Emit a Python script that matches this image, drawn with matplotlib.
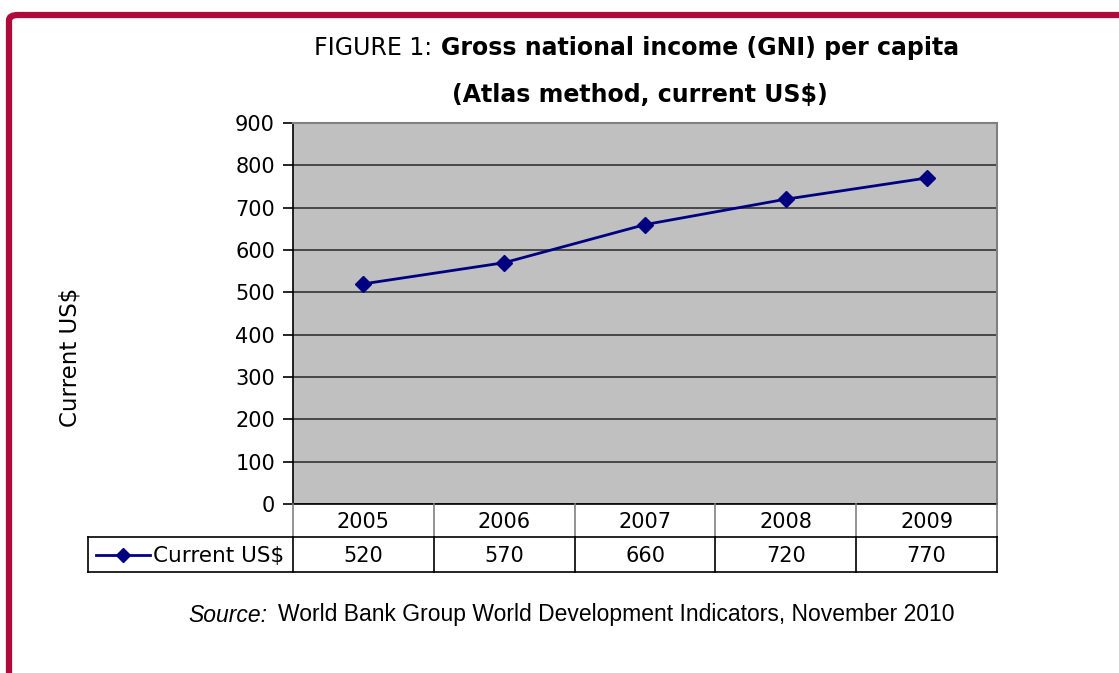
import matplotlib
matplotlib.use("Agg")
import matplotlib.pyplot as plt
import matplotlib.transforms as mtransforms
from matplotlib.patches import FancyBboxPatch
from matplotlib.lines import Line2D

years = ["2005", "2006", "2007", "2008", "2009"]
values = [520, 570, 660, 720, 770]
series_name = "Current US$"
yticks = [0, 100, 200, 300, 400, 500, 600, 700, 800, 900]

W, H = 1119, 673
fig = plt.figure(figsize=(W / 100, H / 100), dpi=100)
plt.rcParams['font.family'] = ['DejaVu Sans']

def fx(px):
    return px / W

def fy(py):
    return 1 - py / H

# red frame
frame = FancyBboxPatch((fx(9), fy(900)), fx(1300), fy(15) - fy(900),
                       boxstyle="round,pad=0,rounding_size=0.008",
                       transform=fig.transFigure, fill=False,
                       edgecolor="#AE0A3A", linewidth=4.5, clip_on=False)
fig.patches.append(frame)

L, R, T, B = 293, 997, 123, 504
ax = fig.add_axes([fx(L), fy(B), fx(R) - fx(L), fy(T) - fy(B)])
ax.set_facecolor("#C0C0C0")
x = list(range(len(years)))
ax.plot(x, values, color="#000080", linewidth=2, marker="D", markersize=8,
        markerfacecolor="#000080", markeredgecolor="#000080", zorder=3)
ax.set_xlim(-0.5, len(years) - 0.5)
ax.set_ylim(0, 900)
ax.set_yticks(yticks)
ax.set_yticklabels([str(v) for v in yticks], fontsize=15)
ax.set_xticks([])
ax.yaxis.grid(True, color="#333333", linewidth=1.2)
ax.set_axisbelow(True)
ax.tick_params(axis="y", length=7, width=1.2, color="black", pad=6)
ax.spines["left"].set_color("black")
ax.spines["left"].set_linewidth(1.2)
ax.spines["bottom"].set_color("black")
ax.spines["bottom"].set_linewidth(1.2)
for s in ["top", "right"]:
    ax.spines[s].set_color("#808080")
    ax.spines[s].set_linewidth(1.5)

# y label
fig.text(fx(70), fy(357), "Current US$", rotation=90, ha="center", va="center", fontsize=16.5)

# title
fig.text(fx(432), fy(48), "FIGURE 1:", ha="right", va="center", fontsize=17)
fig.text(fx(441), fy(48), "Gross national income (GNI) per capita", ha="left", va="center",
         fontsize=17, fontweight="bold")
fig.text(fx(640), fy(95), "(Atlas method, current US$)", ha="center", va="center",
         fontsize=17, fontweight="bold")

# data table
blend = mtransforms.blended_transform_factory(ax.transData, fig.transFigure)
ft = fig.transFigure
r1, r2, r3 = 504, 537, 572
for k in range(len(years) + 1):
    xb = k - 0.5
    fig.add_artist(Line2D([xb, xb], [fy(r1), fy(r2)], transform=blend, color="#808080", linewidth=1.2))
    fig.add_artist(Line2D([xb, xb], [fy(r2), fy(r3)], transform=blend, color="black", linewidth=1.2))
fig.add_artist(Line2D([fx(88), fx(997)], [fy(r2), fy(r2)], transform=ft, color="black", linewidth=1.2))
fig.add_artist(Line2D([fx(88), fx(997)], [fy(r3), fy(r3)], transform=ft, color="black", linewidth=1.2))
fig.add_artist(Line2D([fx(88), fx(88)], [fy(r2), fy(r3)], transform=ft, color="black", linewidth=1.2))
for i, (yr, v) in enumerate(zip(years, values)):
    fig.text(i, fy((r1 + r2) / 2 + 2), yr, transform=blend, ha="center", va="center", fontsize=15)
    fig.text(i, fy((r2 + r3) / 2 + 2), str(v), transform=blend, ha="center", va="center", fontsize=15)
# legend key
fig.add_artist(Line2D([fx(96), fx(150)], [fy(555), fy(555)], transform=ft, color="#000080", linewidth=2))
fig.add_artist(Line2D([fx(123)], [fy(555)], transform=ft, color="#000080", marker="D", markersize=7,
                      linestyle="none"))
fig.text(fx(153), fy(556), series_name, ha="left", va="center", fontsize=15.5)

# source
src_family = ["Liberation Sans", "DejaVu Sans"]
fig.text(fx(188), fy(615), "Source:", ha="left", va="center", fontsize=16.5, style="italic",
         family=src_family)
fig.text(fx(278), fy(615), "World Bank Group World Development Indicators, November 2010",
         ha="left", va="center", fontsize=16.5, family=src_family)

fig.savefig("out.png", dpi=100)
